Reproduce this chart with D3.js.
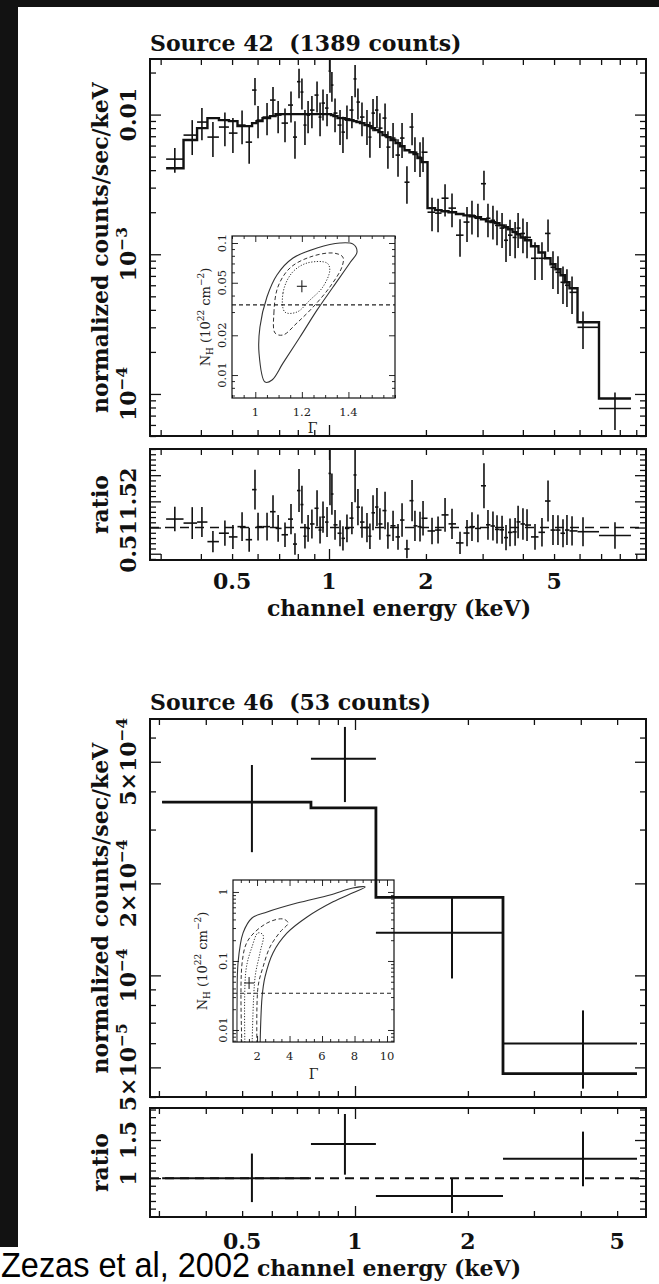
<!DOCTYPE html>
<html>
<head>
<meta charset="utf-8">
<script src="https://cdn.jsdelivr.net/npm/d3@7/dist/d3.min.js"></script>
<style>
html, body { margin: 0; padding: 0; background: #fff; }
svg { display: block; }
</style>
</head>
<body>
<svg id="chart" width="659" height="1284"></svg>
<script>
// ---------- Source 42: one entry per spectral bin ----------
const s42Energy = [0.332, 0.376, 0.403, 0.436, 0.475, 0.503, 0.537, 0.565, 0.589, 0.602,
  0.642, 0.670, 0.695, 0.730, 0.762, 0.784, 0.807, 0.824, 0.842, 0.861,
  0.885, 0.918, 0.938, 0.958, 0.986, 1.007, 1.021, 1.044, 1.082, 1.105,
  1.137, 1.178, 1.205, 1.230, 1.266, 1.312, 1.340, 1.370, 1.409, 1.439,
  1.493, 1.524, 1.581, 1.638, 1.686, 1.746, 1.811, 1.849, 1.917, 1.959,
  2.089, 2.181, 2.293, 2.410, 2.552, 2.683, 2.780, 2.901, 3.029, 3.117,
  3.230, 3.325, 3.447, 3.546, 3.649, 3.784, 3.866, 4.003, 4.121, 4.363,
  4.586, 4.789, 4.962, 5.142, 5.330, 5.483, 5.686, 6.150, 7.73];
const s42Flux = [0.00480, 0.00713, 0.00884, 0.00690, 0.00814, 0.00737, 0.00841, 0.00635, 0.01498, 0.00913,
  0.00960, 0.01270, 0.00992, 0.00869, 0.01170, 0.00690, 0.0172, 0.01450, 0.00841, 0.00992,
  0.01077, 0.01379, 0.00960, 0.01209, 0.01113, 0.0205, 0.01627, 0.01025, 0.00841, 0.00749,
  0.00913, 0.01077, 0.0180, 0.01229, 0.00960, 0.00841, 0.00690, 0.01025, 0.01077, 0.00800,
  0.00944, 0.00585, 0.00679, 0.00513, 0.00679, 0.00328, 0.00814, 0.00538, 0.00496, 0.00538,
  0.00200, 0.00197, 0.00252, 0.00214, 0.00137, 0.00170, 0.00190, 0.00181, 0.00320, 0.00181,
  0.00175, 0.00161, 0.00154, 0.00126, 0.00137, 0.00132, 0.00154, 0.00141, 0.00132, 0.000936,
  0.000936, 0.00141, 0.000807, 0.000743, 0.000630, 0.000600, 0.000534, 0.000300, 0.0000787];
const s42FracErr = [0.20, 0.28, 0.26, 0.28, 0.27, 0.28, 0.27, 0.30, 0.22, 0.26,
  0.26, 0.24, 0.26, 0.27, 0.25, 0.30, 0.24, 0.25, 0.28, 0.26,
  0.26, 0.25, 0.27, 0.25, 0.26, 0.30, 0.24, 0.27, 0.28, 0.29,
  0.27, 0.26, 0.26, 0.25, 0.27, 0.28, 0.29, 0.26, 0.26, 0.28,
  0.27, 0.30, 0.28, 0.30, 0.28, 0.30, 0.26, 0.28, 0.28, 0.28,
  0.27, 0.27, 0.26, 0.27, 0.30, 0.28, 0.27, 0.27, 0.24, 0.27,
  0.27, 0.28, 0.28, 0.30, 0.29, 0.29, 0.28, 0.28, 0.29, 0.30,
  0.30, 0.26, 0.30, 0.30, 0.30, 0.30, 0.30, 0.30, 0.30];
const s42Model = [0.00413, 0.00657, 0.00800, 0.00944, 0.00913, 0.00898, 0.00827, 0.00827, 0.00869, 0.00898,
  0.00944, 0.00975, 0.01008, 0.01008, 0.01008, 0.01008, 0.01008, 0.01008, 0.01008, 0.01008,
  0.01008, 0.01008, 0.01008, 0.01008, 0.01008, 0.01008, 0.00992, 0.00975, 0.00944, 0.00944,
  0.00928, 0.00913, 0.00898, 0.00884, 0.00869, 0.00841, 0.00827, 0.00800, 0.00774, 0.00749,
  0.00713, 0.00690, 0.00657, 0.00625, 0.00594, 0.00556, 0.00538, 0.00521, 0.00488, 0.00457,
  0.00214, 0.00207, 0.00203, 0.00200, 0.00194, 0.00190, 0.00187, 0.00184, 0.00178, 0.00172,
  0.00170, 0.00167, 0.00161, 0.00156, 0.00151, 0.00144, 0.00139, 0.00132, 0.00126, 0.00114,
  0.00103, 0.000936, 0.000848, 0.000781, 0.000707, 0.000630, 0.000571, 0.000326, 0.0000928];

// Source 42 confidence contours, [Gamma, NH (1e22 cm^-2)]
const s42ContourOuter = [[1.042, 0.00885], [1.016, 0.0147], [1.02, 0.0231], [1.05, 0.039], [1.093, 0.0573],
  [1.162, 0.0769], [1.265, 0.0916], [1.364, 0.100], [1.42, 0.098], [1.437, 0.0855], [1.406, 0.0705],
  [1.334, 0.0464], [1.265, 0.031], [1.192, 0.0194], [1.119, 0.0123], [1.072, 0.00917]];
const s42ContourMid = [[1.085, 0.0208], [1.08, 0.0295], [1.097, 0.0464], [1.149, 0.0647], [1.235, 0.0783],
  [1.334, 0.084], [1.376, 0.0783], [1.372, 0.0658], [1.32, 0.0464], [1.248, 0.0327], [1.179, 0.0248], [1.119, 0.0201]];
const s42ContourInner = [[1.127, 0.030], [1.119, 0.0418], [1.157, 0.0593], [1.222, 0.0705], [1.308, 0.0705],
  [1.32, 0.0624], [1.29, 0.0464], [1.235, 0.037], [1.179, 0.030]];
const s42BestFit = [1.2, 0.047];

// ---------- Source 46 ----------
const s46BinLo = [0.306, 0.763, 1.137, 2.481];
const s46BinHi = [0.763, 1.137, 2.481, 5.649];
const s46Energy = [0.531, 0.940, 1.814, 4.055];
const s46Flux = [3.69e-4, 5.11e-4, 1.38e-4, 5.98e-5];
const s46FluxUpper = [4.88e-4, 6.50e-4, 1.79e-4, 7.68e-5];
const s46FluxLower = [2.53e-4, 3.69e-4, 9.77e-5, 4.26e-5];
const s46Model = [3.69e-4, 3.53e-4, 1.80e-4, 4.77e-5];

const s46ContourOuter = [[0.77, 0.005], [0.77, 0.0246], [0.83, 0.0935], [1.14, 0.255], [1.69, 0.42], [2.62, 0.513],
  [4.46, 0.69], [6.49, 0.905], [7.9, 1.14], [8.65, 1.18], [7.9, 0.97], [6.68, 0.72], [5.08, 0.434], [3.85, 0.255],
  [2.98, 0.131], [2.49, 0.0586], [2.31, 0.030], [2.18, 0.005]];
const s46ContourMid = [[1.08, 0.005], [1.08, 0.0935], [1.45, 0.2], [2.62, 0.355], [3.6, 0.406], [3.91, 0.355],
  [3.42, 0.263], [2.8, 0.16], [2.37, 0.082], [2.06, 0.042], [2.0, 0.005]];
const s46ContourInner = [[1.26, 0.005], [1.32, 0.074], [1.69, 0.16], [2.06, 0.255], [2.37, 0.238], [2.18, 0.131],
  [1.88, 0.0586], [1.69, 0.005]];
const s46BestFit = [1.51, 0.048];

const galacticNH = 0.034;

// ---------- tick labels ----------
const energyLabels = [[0.5, '0.5'], [1, '1'], [2, '2'], [5, '5']];
const s42FluxLabels = [[0.01, '0.01'], [1e-3, '10^−3'], [1e-4, '10^−4']];
const s42RatioLabels = [[0.5, '0.5'], [1, '1'], [1.5, '1.5'], [2, '2']];
const s46FluxLabels = [[5e-5, '5×10^−5'], [1e-4, '10^−4'], [2e-4, '2×10^−4'], [5e-4, '5×10^−4']];
const s46RatioLabels = [[1, '1'], [1.5, '1.5']];
const inset42GammaLabels = [[1, '1'], [1.2, '1.2'], [1.4, '1.4']];
const inset42NHLabels = [[0.01, '0.01'], [0.02, '0.02'], [0.05, '0.05'], [0.1, '0.1']];
const inset46GammaLabels = [[2, '2'], [4, '4'], [6, '6'], [8, '8'], [10, '10']];
const inset46NHLabels = [[0.01, '0.01'], [0.1, '0.1'], [1, '1']];

// ==========================================
const INK = '#111';
const FONT = '"DejaVu Serif", serif';
const svg = d3.select('#chart');

svg.append('rect').attr('width', 659).attr('height', 1284).attr('fill', '#fff');
svg.append('rect').attr('width', 659).attr('height', 7).attr('fill', '#121212');
svg.append('rect').attr('width', 18).attr('height', 1247).attr('fill', '#121212');

let clipId = 0;
function clipRect(x0, y0, x1, y1) {
    const id = 'clip' + (clipId++);
    svg.append('clipPath').attr('id', id).append('rect')
        .attr('x', x0).attr('y', y0).attr('width', x1 - x0).attr('height', y1 - y0);
    return `url(#${id})`;
}

function logTicks(lo, hi) {
    const out = [];
    for (let e = Math.floor(Math.log10(lo)); e <= Math.ceil(Math.log10(hi)); e++) {
        for (let k = 1; k <= 9; k++) {
            const v = +(k * Math.pow(10, e)).toPrecision(4);
            if (v >= lo && v <= hi) out.push(v);
        }
    }
    return out;
}

function linTicks(lo, hi, step) {
    const out = [];
    for (let i = Math.ceil(lo / step - 1e-9); i * step <= hi + 1e-9; i++) out.push(+(i * step).toFixed(4));
    return out;
}

function without(all, major) {
    return all.filter(v => !major.some(m => Math.abs(m - v) < 1e-9 * Math.max(1, Math.abs(m))));
}

// inward ticks on one side of a frame, using d3 axes
function ticks(g, axisFn, scale, values, len, transform, sw) {
    const a = g.append('g').attr('transform', transform)
        .call(axisFn(scale).tickValues(values).tickSizeInner(-len).tickSizeOuter(0).tickFormat(''));
    a.select('.domain').remove();
    a.selectAll('text').remove();
    a.selectAll('line').attr('stroke', INK).attr('stroke-width', sw);
}

function boxTicks(g, xs, ys, box, xMaj, xMin, yMaj, yMin, lenMaj, lenMin, sw) {
    ticks(g, d3.axisBottom, xs, xMaj, lenMaj, `translate(0,${box.bottom})`, sw);
    ticks(g, d3.axisBottom, xs, xMin, lenMin, `translate(0,${box.bottom})`, sw);
    ticks(g, d3.axisTop, xs, xMaj, lenMaj, `translate(0,${box.top})`, sw);
    ticks(g, d3.axisTop, xs, xMin, lenMin, `translate(0,${box.top})`, sw);
    ticks(g, d3.axisLeft, ys, yMaj, lenMaj, `translate(${box.left},0)`, sw);
    ticks(g, d3.axisLeft, ys, yMin, lenMin, `translate(${box.left},0)`, sw);
    ticks(g, d3.axisRight, ys, yMaj, lenMaj, `translate(${box.right},0)`, sw);
    ticks(g, d3.axisRight, ys, yMin, lenMin, `translate(${box.right},0)`, sw);
}

function frame(g, box, sw) {
    g.append('rect').attr('x', box.left).attr('y', box.top)
        .attr('width', box.right - box.left).attr('height', box.bottom - box.top)
        .attr('fill', 'none').attr('stroke', INK).attr('stroke-width', sw);
}

// text with an optional superscript written after '^'
function label(g, str, x, y, o) {
    const t = g.append('text')
        .attr('transform', `translate(${x},${y})` + (o.rotate ? ' rotate(-90)' : ''))
        .attr('text-anchor', o.anchor || 'middle')
        .attr('font-family', FONT)
        .attr('font-weight', o.weight || 'bold')
        .attr('font-size', o.size)
        .attr('fill', o.fill || INK);
    const parts = str.split('^');
    t.append('tspan').text(parts[0]);
    if (parts[1]) {
        t.append('tspan').attr('dy', -o.size * 0.42).attr('font-size', o.size * 0.7).text(parts[1]);
    }
    return t;
}

function drawInset(cfg) {
    const g = svg.append('g');
    const b = cfg.box;
    const x = d3.scaleLinear().domain(cfg.xDomain).range([b.left, b.right]);
    const y = d3.scaleLog().domain(cfg.yDomain).range([b.bottom, b.top]);
    const clip = clipRect(b.left, b.top, b.right, b.bottom);
    const gc = g.append('g').attr('clip-path', clip);

    const line = d3.line().x(d => x(d[0])).y(d => y(d[1]));
    const styles = [
        { data: cfg.outer, dash: null, w: 1.1 },
        { data: cfg.mid, dash: '4,2.5', w: 1.0 },
        { data: cfg.inner, dash: '1.2,1.6', w: 1.0 }
    ];
    styles.forEach(s => {
        gc.append('path')
            .attr('d', line.curve(cfg.closed ? d3.curveCatmullRomClosed : d3.curveCatmullRom)(s.data))
            .attr('fill', 'none').attr('stroke', '#333').attr('stroke-width', s.w)
            .attr('stroke-dasharray', s.dash);
    });

    gc.append('line')
        .attr('x1', b.left).attr('x2', b.right)
        .attr('y1', y(galacticNH)).attr('y2', y(galacticNH))
        .attr('stroke', '#222').attr('stroke-width', 1.1).attr('stroke-dasharray', '4,3');

    const [bg, bn] = cfg.best;
    gc.append('line').attr('x1', x(bg) - 5).attr('x2', x(bg) + 5).attr('y1', y(bn)).attr('y2', y(bn))
        .attr('stroke', '#222').attr('stroke-width', 1.1);
    gc.append('line').attr('x1', x(bg)).attr('x2', x(bg)).attr('y1', y(bn) - 6).attr('y2', y(bn) + 6)
        .attr('stroke', '#222').attr('stroke-width', 1.1);

    const xMaj = cfg.xLabels.map(d => d[0]);
    const yMaj = cfg.yLabels.map(d => d[0]);
    boxTicks(g, x, y, b, xMaj, without(linTicks(cfg.xDomain[0], cfg.xDomain[1], cfg.xMinorStep), xMaj),
        yMaj, without(logTicks(cfg.yDomain[0], cfg.yDomain[1]), yMaj), 6, 3, 0.9);
    frame(g, b, 1.2);

    cfg.xLabels.forEach(([v, s]) => label(g, s, x(v), cfg.xLabelY, { size: 11.5, weight: 'normal', fill: '#222' }));
    cfg.yLabels.forEach(([v, s]) => label(g, s, cfg.yLabelX, y(v), { size: 11.5, weight: 'normal', rotate: true, fill: '#222' }));
    label(g, 'Γ', x((cfg.xDomain[0] + cfg.xDomain[1]) / 2) + cfg.gammaDx, cfg.gammaY, { size: 14, weight: 'normal', fill: '#222' });

    // N_H (10^22 cm^-2)
    const t = g.append('text')
        .attr('transform', `translate(${cfg.titleX},${(b.top + b.bottom) / 2}) rotate(-90)`)
        .attr('text-anchor', 'middle').attr('font-family', FONT).attr('font-size', 13).attr('fill', '#222');
    t.append('tspan').text('N');
    t.append('tspan').attr('dy', 3).attr('font-size', 9).text('H');
    t.append('tspan').attr('dy', -3).text('\u00a0(10');
    t.append('tspan').attr('dy', -6).attr('font-size', 9).text('22');
    t.append('tspan').attr('dy', 6).text('\u00a0cm');
    t.append('tspan').attr('dy', -6).attr('font-size', 9).text('−2');
    t.append('tspan').attr('dy', 6).text(')');
}

function drawSpectrum(cfg) {
    const L = cfg.layout;
    const g = svg.append('g');
    const x = d3.scaleLog().domain(cfg.xDomain).range([L.left, L.right]);
    const y = d3.scaleLog().domain(cfg.yDomain).range([L.mainBottom, L.mainTop]);
    const yr = d3.scaleLinear().domain(cfg.rDomain).range([L.ratioBottom, L.ratioTop]);
    const mainBox = { left: L.left, right: L.right, top: L.mainTop, bottom: L.mainBottom };
    const ratioBox = { left: L.left, right: L.right, top: L.ratioTop, bottom: L.ratioBottom };

    if (cfg.inset) drawInset(cfg.inset);

    // ---- main panel ----
    const gm = g.append('g').attr('clip-path', clipRect(L.left, L.mainTop, L.right, L.mainBottom));
    const modelPts = [];
    cfg.bins.forEach(b => { modelPts.push([b.lo, b.m], [b.hi, b.m]); });
    gm.append('path')
        .attr('d', d3.line().x(d => x(d[0])).y(d => y(d[1]))(modelPts))
        .attr('fill', 'none').attr('stroke', INK).attr('stroke-width', cfg.modelWidth);

    cfg.bins.forEach(b => {
        const gg = gm.append('g');
        gg.append('line').attr('x1', x(b.lo)).attr('x2', x(b.hi)).attr('y1', y(b.f)).attr('y2', y(b.f))
            .attr('stroke', INK).attr('stroke-width', cfg.crossWidth);
        gg.append('line').attr('x1', x(b.e)).attr('x2', x(b.e)).attr('y1', y(Math.max(b.fLo, 1e-9))).attr('y2', y(b.fHi))
            .attr('stroke', INK).attr('stroke-width', cfg.crossWidth);
    });

    const yMaj = cfg.yLabels.map(d => d[0]);
    const xMaj = [1];
    const xMin = without(logTicks(cfg.xDomain[0], cfg.xDomain[1]), xMaj);
    boxTicks(g, x, y, mainBox, xMaj, xMin, yMaj, without(logTicks(cfg.yDomain[0], cfg.yDomain[1]), yMaj), 11, 6, 1.3);
    frame(g, mainBox, 2);

    // ---- ratio panel ----
    const gr = g.append('g').attr('clip-path', clipRect(L.left, L.ratioTop, L.right, L.ratioBottom));
    gr.append('line').attr('x1', L.left).attr('x2', L.right).attr('y1', yr(1)).attr('y2', yr(1))
        .attr('stroke', INK).attr('stroke-width', cfg.crossWidth).attr('stroke-dasharray', '9,6');
    cfg.bins.forEach(b => {
        const r = b.f / b.m, rLo = b.fLo / b.m, rHi = b.fHi / b.m;
        gr.append('line').attr('x1', x(b.lo)).attr('x2', x(b.hi)).attr('y1', yr(r)).attr('y2', yr(r))
            .attr('stroke', INK).attr('stroke-width', cfg.crossWidth);
        gr.append('line').attr('x1', x(b.e)).attr('x2', x(b.e)).attr('y1', yr(rLo)).attr('y2', yr(rHi))
            .attr('stroke', INK).attr('stroke-width', cfg.crossWidth);
    });
    const rMaj = cfg.rMajor;
    boxTicks(g, x, yr, ratioBox, xMaj, xMin, rMaj, without(linTicks(cfg.rDomain[0], cfg.rDomain[1], 0.1), rMaj), 11, 6, 1.3);
    frame(g, ratioBox, 2);

    // ---- text ----
    const S = 22;
    label(g, cfg.title, L.left, L.titleY, { size: S, anchor: 'start' });
    label(g, 'normalized counts/sec/keV', L.yTitleX, (L.mainTop + L.mainBottom) / 2, { size: S, rotate: true });
    label(g, 'ratio', L.yTitleX, (L.ratioTop + L.ratioBottom) / 2, { size: S, rotate: true });
    cfg.yLabels.forEach(([v, s]) => label(g, s, L.yLabelX, y(v), { size: S, rotate: true }));
    cfg.rLabels.forEach(([v, s]) => label(g, s, L.yLabelX, yr(v), { size: S, rotate: true }));
    energyLabels.forEach(([v, s]) => label(g, s, x(v), L.xLabelY, { size: S }));
    label(g, 'channel energy (keV)', L.xTitleX, L.xTitleY, { size: S });
}

// Source 42 bins: edges halfway (in log E) between neighbouring channels
const s42Bins = s42Energy.map((e, i) => {
    const prev = i > 0 ? s42Energy[i - 1] : e * e / s42Energy[i + 1];
    const next = i < s42Energy.length - 1 ? s42Energy[i + 1] : e * e / s42Energy[i - 1];
    return {
        e, lo: Math.sqrt(prev * e), hi: Math.sqrt(e * next),
        f: s42Flux[i], fLo: s42Flux[i] * (1 - s42FracErr[i]), fHi: s42Flux[i] * (1 + s42FracErr[i]),
        m: s42Model[i]
    };
});

const s46Bins = s46Energy.map((e, i) => ({
    e, lo: s46BinLo[i], hi: s46BinHi[i],
    f: s46Flux[i], fLo: s46FluxLower[i], fHi: s46FluxUpper[i], m: s46Model[i]
}));

drawSpectrum({
    layout: { left: 150, right: 646, mainTop: 59, mainBottom: 436, ratioTop: 449, ratioBottom: 560,
        titleY: 51, xLabelY: 589, xTitleX: 399, xTitleY: 616, yTitleX: 108, yLabelX: 136 },
    title: 'Source 42\u00a0\u00a0(1389 counts)',
    xDomain: [0.278, 9.65], yDomain: [5e-5, 0.025], rDomain: [0.38, 2.5],
    rMajor: [0.5, 1, 1.5, 2],
    yLabels: s42FluxLabels, rLabels: s42RatioLabels,
    bins: s42Bins, modelWidth: 2.4, crossWidth: 1.6,
    inset: {
        box: { left: 232, right: 395, top: 236, bottom: 398 },
        xDomain: [0.9, 1.6], yDomain: [0.0067, 0.113], xMinorStep: 0.05,
        outer: s42ContourOuter, mid: s42ContourMid, inner: s42ContourInner, closed: true,
        best: s42BestFit, xLabels: inset42GammaLabels, yLabels: inset42NHLabels,
        xLabelY: 416, yLabelX: 226, gammaY: 433, gammaDx: -1, titleX: 210
    }
});

drawSpectrum({
    layout: { left: 150, right: 646, mainTop: 719, mainBottom: 1097, ratioTop: 1108, ratioBottom: 1217,
        titleY: 710, xLabelY: 1249, xTitleX: 389, xTitleY: 1276, yTitleX: 108, yLabelX: 136 },
    title: 'Source 46\u00a0\u00a0(53 counts)',
    xDomain: [0.284, 5.97], yDomain: [4e-5, 6.9e-4], rDomain: [0.49, 1.92],
    rMajor: [0.5, 1, 1.5],
    yLabels: s46FluxLabels, rLabels: s46RatioLabels,
    bins: s46Bins, modelWidth: 2.8, crossWidth: 2,
    inset: {
        box: { left: 233, right: 394, top: 880, bottom: 1042 },
        xDomain: [0.52, 10.43], yDomain: [0.0067, 1.49], xMinorStep: 0.5,
        outer: s46ContourOuter, mid: s46ContourMid, inner: s46ContourInner, closed: false,
        best: s46BestFit, xLabels: inset46GammaLabels, yLabels: inset46NHLabels,
        xLabelY: 1060, yLabelX: 227, gammaY: 1079, gammaDx: 0, titleX: 207
    }
});

// credit line
svg.append('text')
    .attr('x', 1).attr('y', 1277)
    .attr('font-family', '"Liberation Sans Narrow", "Liberation Sans", sans-serif')
    .attr('font-size', 35)
    .attr('textLength', 249).attr('lengthAdjust', 'spacingAndGlyphs')
    .attr('fill', '#000')
    .text('Zezas et al, 2002');
</script>
</body>
</html>
